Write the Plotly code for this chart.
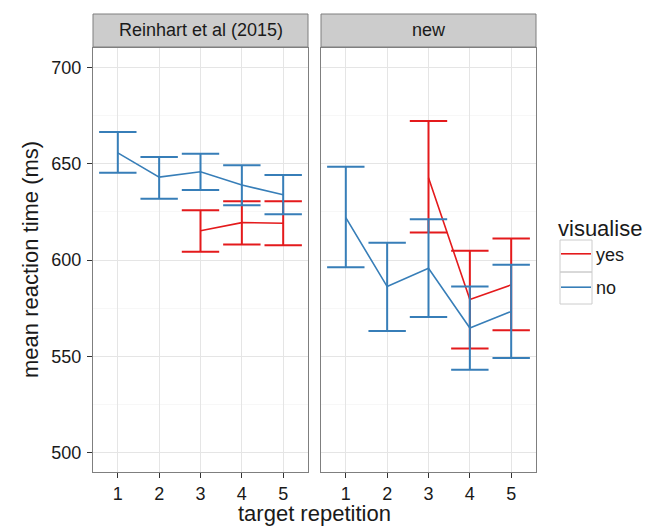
import plotly.graph_objects as go

# ---- data ----
reps_all = [1, 2, 3, 4, 5]
reps_yes = [3, 4, 5]

reinhart_no_mean = [655.6, 643.0, 645.8, 638.9, 633.9]
reinhart_no_upper = [666.4, 653.5, 655.1, 649.2, 644.1]
reinhart_no_lower = [645.3, 631.8, 636.3, 628.4, 623.8]

reinhart_yes_mean = [615.2, 619.4, 619.1]
reinhart_yes_upper = [625.8, 630.5, 630.5]
reinhart_yes_lower = [604.3, 608.1, 607.6]

new_no_mean = [622.0, 586.2, 595.7, 564.7, 573.3]
new_no_upper = [648.4, 609.0, 621.2, 586.2, 597.6]
new_no_lower = [596.2, 563.2, 570.4, 543.0, 549.1]

new_yes_mean = [642.7, 579.5, 587.1]
new_yes_upper = [672.1, 604.8, 611.2]
new_yes_lower = [614.3, 554.1, 563.5]

panel_titles = ["Reinhart et al (2015)", "new"]
series_names = ["yes", "no"]
y_ticks = [500, 550, 600, 650, 700]

RED = "#E41A1C"
BLUE = "#377EB8"
FONT = "Liberation Sans, Arial, sans-serif"

W, H = 657, 527
L, R, T, B = 93, 121, 48, 55
pw = W - L - R
ph = H - T - B

def px_x(p):
    return (p - L) / pw

def px_y(p):
    return (H - B - p) / ph

dom1 = [0, 215 / pw]
dom2 = [228 / pw, 1]

def trace(x, mean, upper, lower, color, name, xa, ya, show):
    return go.Scatter(
        x=x, y=mean, mode="lines", name=name, legendgroup=name,
        showlegend=show, xaxis=xa, yaxis=ya,
        line=dict(color=color, width=1.6),
        error_y=dict(type="data", symmetric=False,
                     array=[u - m for u, m in zip(upper, mean)],
                     arrayminus=[m - l for m, l in zip(mean, lower)],
                     color=color, thickness=2, width=18.7),
    )

fig = go.Figure()
fig.add_trace(trace(reps_yes, reinhart_yes_mean, reinhart_yes_upper, reinhart_yes_lower, RED, series_names[0], "x", "y", True))
fig.add_trace(trace(reps_all, reinhart_no_mean, reinhart_no_upper, reinhart_no_lower, BLUE, series_names[1], "x", "y", True))
fig.add_trace(trace(reps_yes, new_yes_mean, new_yes_upper, new_yes_lower, RED, series_names[0], "x2", "y2", False))
fig.add_trace(trace(reps_all, new_no_mean, new_no_upper, new_no_lower, BLUE, series_names[1], "x2", "y2", False))

xcommon = dict(range=[0.4, 5.6], tickvals=reps_all, ticktext=[str(r) for r in reps_all],
               showgrid=True, gridcolor="#E5E5E5", gridwidth=1, zeroline=False,
               showline=True, mirror=True, linecolor="#7F7F7F", linewidth=1,
               ticks="outside", ticklen=5, tickcolor="#333333", tickwidth=1,
               tickfont=dict(size=18, color="#1A1A1A", family=FONT))
ycommon = dict(range=[490, 710], tickvals=y_ticks, showgrid=True, gridcolor="#E5E5E5",
               gridwidth=1, zeroline=False, showline=True, mirror=True,
               linecolor="#7F7F7F", linewidth=1,
               minor=dict(dtick=25, tick0=500, showgrid=True, gridcolor="#F7F7F7", ticks=""),
               tickfont=dict(size=18, color="#1A1A1A", family=FONT))

fig.update_layout(
    width=W, height=H,
    margin=dict(l=L, r=R, t=T, b=B),
    paper_bgcolor="white", plot_bgcolor="white",
    font=dict(family=FONT, color="#1A1A1A"),
    xaxis=dict(domain=dom1, anchor="y", **xcommon),
    xaxis2=dict(domain=dom2, anchor="y2", **xcommon),
    yaxis=dict(domain=[0, 1], anchor="x", ticks="outside", ticklen=5, tickcolor="#333333",
               ticklabelstandoff=2, **ycommon),
    yaxis2=dict(domain=[0, 1], anchor="x2", matches="y", showticklabels=False, ticks="", **ycommon),
    legend=dict(
        title=dict(text="visualise", font=dict(size=22, family=FONT, color="#1A1A1A")),
        font=dict(size=18, family=FONT, color="#1A1A1A"),
        x=px_x(556), y=px_y(207), xanchor="left", yanchor="top",
        tracegroupgap=7, bgcolor="rgba(0,0,0,0)",
    ),
)

shapes = []
annotations = []
for dom, title in zip([dom1, dom2], panel_titles):
    shapes.append(dict(type="rect", xref="paper", yref="paper",
                       x0=dom[0], x1=dom[1], y0=px_y(47), y1=px_y(14),
                       fillcolor="#CCCCCC", line=dict(color="#7F7F7F", width=1), layer="below"))
    annotations.append(dict(text=title, xref="paper", yref="paper",
                            x=(dom[0] + dom[1]) / 2, y=px_y(30.5), showarrow=False,
                            xanchor="center", yanchor="middle",
                            font=dict(size=18, family=FONT, color="#1A1A1A")))
# legend key boxes
for top, bot in [(240, 272), (272, 304)]:
    shapes.append(dict(type="rect", xref="paper", yref="paper",
                       x0=px_x(560), x1=px_x(592), y0=px_y(bot), y1=px_y(top),
                       fillcolor="rgba(0,0,0,0)", line=dict(color="#CCCCCC", width=1)))

annotations.append(dict(text="target repetition", xref="paper", yref="paper",
                        x=0.5, y=px_y(513), showarrow=False, xanchor="center", yanchor="middle",
                        font=dict(size=22, family=FONT, color="#1A1A1A")))
annotations.append(dict(text="mean reaction time (ms)", xref="paper", yref="paper",
                        x=px_x(30), y=px_y(260), showarrow=False, textangle=-90,
                        xanchor="center", yanchor="middle",
                        font=dict(size=22, family=FONT, color="#1A1A1A")))
fig.update_layout(shapes=shapes, annotations=annotations)

fig.write_html("out.html", config={"displayModeBar": False},
               post_script="document.body.style.margin='0';document.body.style.padding='0';")
